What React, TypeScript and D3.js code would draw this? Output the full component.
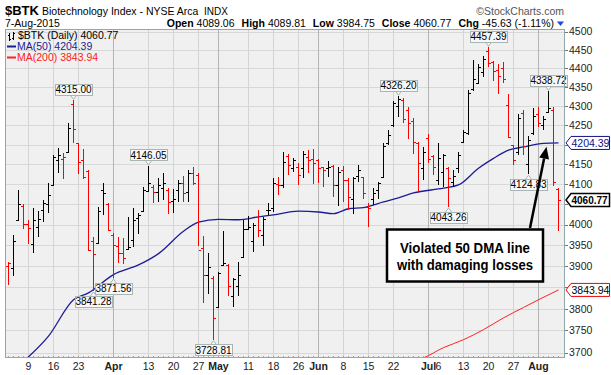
import * as d3 from "d3";
import { useRef, useEffect } from "react";

// daily bars: date, open, high, low, close
const bars: [string, number, number, number, number][] = [
  ["2015-03-03", 3900, 3911, 3855, 3908],
  ["2015-03-04", 3896, 3975, 3876, 3960],
  ["2015-03-05", 4011, 4086, 4010, 4050],
  ["2015-03-06", 4045, 4050, 3989, 4002],
  ["2015-03-09", 4002, 4011, 3952, 3991],
  ["2015-03-10", 3952, 4041, 3931, 4011],
  ["2015-03-11", 3995, 4033, 3969, 4014],
  ["2015-03-12", 4037, 4060, 4006, 4053],
  ["2015-03-13", 4050, 4102, 4028, 4073],
  ["2015-03-16", 4097, 4173, 4096, 4168],
  ["2015-03-17", 4161, 4191, 4129, 4173],
  ["2015-03-18", 4164, 4178, 4112, 4169],
  ["2015-03-19", 4182, 4256, 4178, 4242],
  ["2015-03-20", 4306, 4315, 4205, 4239],
  ["2015-03-23", 4203, 4205, 4126, 4157],
  ["2015-03-24", 4161, 4188, 4113, 4119],
  ["2015-03-25", 4132, 4136, 3937, 3939],
  ["2015-03-26", 3960, 3971, 3841.28, 3930],
  ["2015-03-27", 3955, 4044, 3954, 4033],
  ["2015-03-30", 4086, 4102, 4024, 4077],
  ["2015-03-31", 4050, 4053, 3985, 3987],
  ["2015-04-01", 3975, 3979, 3871.56, 3951],
  ["2015-04-02", 3949, 3971, 3908, 3931],
  ["2015-04-06", 3931, 3967, 3906, 3919],
  ["2015-04-07", 3940, 4018, 3939, 3947],
  ["2015-04-08", 3963, 4040, 3947, 4011],
  ["2015-04-09", 4016, 4028, 3977, 4024],
  ["2015-04-10", 4033, 4094, 4032, 4086],
  ["2015-04-13", 4083, 4146.05, 4081, 4102],
  ["2015-04-14", 4094, 4098, 4052, 4081],
  ["2015-04-15", 4081, 4115, 4056, 4098],
  ["2015-04-16", 4090, 4129, 4060, 4102],
  ["2015-04-17", 4086, 4090, 4025, 4056],
  ["2015-04-20", 4058, 4087, 4028, 4062],
  ["2015-04-21", 4086, 4111, 4056, 4102],
  ["2015-04-22", 4104, 4120, 4056, 4077],
  ["2015-04-23", 4081, 4136, 4056, 4127],
  ["2015-04-24", 4127, 4142, 4098, 4102],
  ["2015-04-27", 4123, 4129, 3948, 3939],
  ["2015-04-28", 3943, 3973, 3813, 3880],
  ["2015-04-29", 3878, 3932, 3835, 3898],
  ["2015-04-30", 3873, 3877, 3728.81, 3778],
  ["2015-05-01", 3805, 3886, 3803, 3884],
  ["2015-05-04", 3902, 3985, 3900, 3907],
  ["2015-05-05", 3903, 3905, 3830, 3854],
  ["2015-05-06", 3829, 3873, 3805, 3870],
  ["2015-05-07", 3853, 3909, 3830, 3880],
  ["2015-05-08", 3921, 4011, 3919, 3989],
  ["2015-05-11", 3990, 4021, 3987, 3995],
  ["2015-05-12", 3960, 4003, 3935, 3999],
  ["2015-05-13", 4018, 4037, 3971, 3987],
  ["2015-05-14", 3975, 4018, 3948, 4013],
  ["2015-05-15", 4035, 4052, 4023, 4036],
  ["2015-05-18", 4040, 4115, 4032, 4104],
  ["2015-05-19", 4101, 4119, 4072, 4098],
  ["2015-05-20", 4098, 4182, 4090, 4157],
  ["2015-05-21", 4172, 4177, 4123, 4148],
  ["2015-05-22", 4141, 4167, 4131, 4161],
  ["2015-05-26", 4144, 4152, 4098, 4123],
  ["2015-05-27", 4140, 4183, 4115, 4177],
  ["2015-05-28", 4169, 4187, 4127, 4160],
  ["2015-05-29", 4164, 4190, 4101, 4152],
  ["2015-06-01", 4162, 4164, 4102, 4141],
  ["2015-06-02", 4143, 4144, 4094, 4136],
  ["2015-06-03", 4141, 4158, 4117, 4144],
  ["2015-06-04", 4145, 4149, 4068, 4098],
  ["2015-06-05", 4098, 4144, 4046, 4130],
  ["2015-06-08", 4136, 4146, 4056, 4111],
  ["2015-06-09", 4110, 4115, 4036, 4068],
  ["2015-06-10", 4064, 4119, 4026, 4115],
  ["2015-06-11", 4120, 4149, 4106, 4136],
  ["2015-06-12", 4117, 4119, 4064, 4077],
  ["2015-06-15", 4044, 4052, 3994, 4041],
  ["2015-06-16", 4064, 4090, 4048, 4079],
  ["2015-06-17", 4086, 4106, 4064, 4102],
  ["2015-06-18", 4117, 4203, 4115, 4196],
  ["2015-06-19", 4205, 4238, 4198, 4225],
  ["2015-06-22", 4250, 4312, 4246, 4308],
  ["2015-06-23", 4300, 4326.2, 4271, 4318],
  ["2015-06-24", 4315, 4320, 4255, 4265],
  ["2015-06-25", 4290, 4298, 4215, 4255],
  ["2015-06-26", 4260, 4268, 4177, 4208],
  ["2015-06-29", 4205, 4208, 4082, 4152],
  ["2015-06-30", 4140, 4193, 4111, 4181],
  ["2015-07-01", 4218, 4228, 4152, 4164],
  ["2015-07-02", 4170, 4173, 4123, 4144],
  ["2015-07-06", 4110, 4203, 4098, 4166],
  ["2015-07-07", 4130, 4177, 4094, 4174],
  ["2015-07-08", 4140, 4144, 4043.26, 4115],
  ["2015-07-09", 4105, 4136, 4094, 4120],
  ["2015-07-10", 4140, 4181, 4127, 4173],
  ["2015-07-13", 4207, 4238, 4203, 4232],
  ["2015-07-14", 4229, 4341, 4225, 4334],
  ["2015-07-15", 4345, 4422, 4340, 4372],
  ["2015-07-16", 4362, 4413, 4359, 4404],
  ["2015-07-17", 4390, 4433, 4376, 4425],
  ["2015-07-20", 4448, 4457.39, 4403, 4415],
  ["2015-07-21", 4417, 4421, 4367, 4394],
  ["2015-07-22", 4395, 4412, 4333, 4379],
  ["2015-07-23", 4401, 4417, 4360, 4371],
  ["2015-07-24", 4302, 4333, 4216, 4220],
  ["2015-07-27", 4198, 4200, 4148, 4160],
  ["2015-07-28", 4180, 4278, 4173, 4268],
  ["2015-07-29", 4282, 4289, 4173, 4196],
  ["2015-07-30", 4150, 4222, 4124.83, 4211],
  ["2015-07-31", 4230, 4294, 4225, 4275],
  ["2015-08-03", 4280, 4297, 4246, 4255],
  ["2015-08-04", 4250, 4275, 4237, 4265],
  ["2015-08-05", 4285, 4338.72, 4283, 4295],
  ["2015-08-06", 4290, 4297, 4095, 4106.4],
  ["2015-08-07", 4089.06, 4089.81, 3984.75, 4060.77],
];
const priorClose = 3925; // close before the first bar, sets its colour

const ma50: [string, number][] = [
  ["2015-03-06", 3680], ["2015-03-13", 3737], ["2015-03-20", 3821], ["2015-03-25", 3837],
  ["2015-04-01", 3880], ["2015-04-09", 3903], ["2015-04-15", 3930], ["2015-04-22", 3984],
  ["2015-04-27", 4006], ["2015-05-01", 4013], ["2015-05-07", 4012], ["2015-05-13", 4019],
  ["2015-05-18", 4024], ["2015-05-26", 4033], ["2015-06-01", 4031], ["2015-06-04", 4027],
  ["2015-06-09", 4039], ["2015-06-12", 4042], ["2015-06-18", 4056], ["2015-06-23", 4066],
  ["2015-06-26", 4078], ["2015-07-07", 4090], ["2015-07-10", 4098], ["2015-07-16", 4140],
  ["2015-07-21", 4165], ["2015-07-24", 4186], ["2015-07-29", 4194], ["2015-08-04", 4203],
  ["2015-08-07", 4204.39],
];
const ma200: [string, number][] = [
  ["2015-06-29", 3684], ["2015-06-30", 3688], ["2015-07-07", 3711], ["2015-07-13", 3729],
  ["2015-07-17", 3752], ["2015-07-23", 3779], ["2015-07-29", 3803], ["2015-08-03", 3821],
  ["2015-08-07", 3843.94],
];

const priceTicks = d3.range(3700, 4501, 50);
// date, label, month label?, grid line?
const dateLabels: [string, string, boolean, boolean][] = [
  ["2015-03-09", "9", false, true], ["2015-03-16", "16", false, true], ["2015-03-23", "23", false, true],
  ["2015-04-01", "Apr", true, true], ["2015-04-13", "13", false, true], ["2015-04-20", "20", false, true],
  ["2015-04-27", "27", false, true], ["2015-05-01", "May", true, true], ["2015-05-11", "11", false, true],
  ["2015-05-18", "18", false, true], ["2015-05-26", "26", false, true], ["2015-06-01", "Jun", true, true],
  ["2015-06-08", "8", false, true], ["2015-06-15", "15", false, true], ["2015-06-22", "22", false, true],
  ["2015-07-01", "Jul", true, true], ["2015-07-06", "6", false, false], ["2015-07-13", "13", false, true],
  ["2015-07-20", "20", false, true], ["2015-07-27", "27", false, true], ["2015-08-03", "Aug", true, true],
];
const callouts: [string, "high" | "low"][] = [
  ["2015-03-20", "high"], ["2015-03-26", "low"], ["2015-04-01", "low"], ["2015-04-13", "high"],
  ["2015-04-30", "low"], ["2015-06-23", "high"], ["2015-07-08", "low"], ["2015-07-20", "high"],
  ["2015-07-30", "low"], ["2015-08-05", "high"],
];

const FONT = "'Liberation Sans', Arial, sans-serif";
const UP = "#000000";
const DOWN = "#ff0000";
const MA50_COLOR = "#1c1c96";
const MA200_COLOR = "#ff2020";

export default function App() {
  const svgRef = useRef<SVGSVGElement | null>(null);

  useEffect(() => {
    if (!svgRef.current) return;
    const svg = d3.select(svgRef.current);
    svg.selectAll("*").remove();

    const left = 5, right = 565, top = 29, bottom = 358;
    const dates = bars.map((d) => d[0]);
    const x = d3.scalePoint<string>().domain(dates).range([8.5, 558.5]);
    const y = d3.scaleLog().domain([3700, 4500]).range([352.5, 31.5]);
    const px = (d: string) => x(d)!;

    svg.attr("font-family", FONT);

    const last = bars[bars.length - 1];
    const prev = bars[bars.length - 2][4];
    const chg = last[4] - prev;
    const lastMa50 = ma50[ma50.length - 1][1];
    const lastMa200 = ma200[ma200.length - 1][1];

    // header
    svg.append("text").attr("x", 5).attr("y", 15).attr("font-size", 13).attr("font-weight", "bold").text("$BTK");
    svg.append("text").attr("x", 42).attr("y", 15).attr("font-size", 10.5).text("Biotechnology Index - NYSE Arca");
    svg.append("text").attr("x", 204).attr("y", 15).attr("font-size", 10).text("INDX");
    svg.append("text").attr("x", 564).attr("y", 15).attr("font-size", 10.5).attr("fill", "#555")
      .attr("text-anchor", "end").text("\u00a9StockCharts.com");
    svg.append("text").attr("x", 5).attr("y", 27).attr("font-size", 10.5).text("7-Aug-2015");

    const quote = svg.append("text").attr("x", 554).attr("y", 27).attr("font-size", 10.5).attr("text-anchor", "end");
    const parts: [string, string][] = [
      ["Open", last[1].toFixed(2)], ["High", last[2].toFixed(2)], ["Low", last[3].toFixed(2)],
      ["Close", last[4].toFixed(2)], ["Chg", `${chg.toFixed(2)} (${((chg / prev) * 100).toFixed(2)}%)`],
    ];
    parts.forEach(([k, v], i) => {
      quote.append("tspan").attr("font-weight", "bold").attr("dx", i === 0 ? 0 : 7).text(k);
      quote.append("tspan").attr("dx", 3).text(v);
    });
    svg.append("path").attr("d", "M557,21.5 L564,21.5 L560.5,26 Z").attr("fill", chg < 0 ? "#2244dd" : "#22aa22");

    // plot area
    svg.append("rect").attr("x", left).attr("y", top).attr("width", right - left).attr("height", bottom - top)
      .attr("fill", "#f0f0f0");
    svg.append("defs").append("clipPath").attr("id", "plotClip").append("rect")
      .attr("x", left).attr("y", top).attr("width", right - left).attr("height", bottom - top);

    const grid = svg.append("g").attr("shape-rendering", "crispEdges");
    priceTicks.forEach((t) => {
      const yy = Math.round(y(t)) + 0.5;
      grid.append("line").attr("x1", left).attr("x2", right).attr("y1", yy).attr("y2", yy).attr("stroke", "#d8d8d8");
    });
    dateLabels.filter((d) => d[3]).forEach(([d, , month]) => {
      grid.append("line").attr("x1", px(d)).attr("x2", px(d)).attr("y1", top).attr("y2", bottom)
        .attr("stroke", month ? "#b4b4b4" : "#d4d4d4");
    });

    // day ticks on bottom edge
    dates.forEach((d) => {
      grid.append("line").attr("x1", px(d)).attr("x2", px(d)).attr("y1", bottom - 2).attr("y2", bottom).attr("stroke", "#a0a0a0");
    });

    // MA lines
    const line = d3.line<[string, number]>().x((d) => px(d[0])).y((d) => y(d[1])).curve(d3.curveMonotoneX);
    const clipped = svg.append("g").attr("clip-path", "url(#plotClip)");
    clipped.append("path").datum(ma200).attr("d", line).attr("fill", "none").attr("stroke", MA200_COLOR).attr("stroke-width", 1);
    clipped.append("path").datum(ma50).attr("d", line).attr("fill", "none").attr("stroke", MA50_COLOR).attr("stroke-width", 1.3);

    // OHLC bars
    const g = clipped.append("g").attr("shape-rendering", "crispEdges");
    bars.forEach((b, i) => {
      const [d, o, h, l, c] = b;
      const pc = i === 0 ? priorClose : bars[i - 1][4];
      const col = c < pc ? DOWN : UP;
      const xx = px(d);
      g.append("line").attr("x1", xx).attr("x2", xx).attr("y1", y(h)).attr("y2", y(l)).attr("stroke", col);
      const yo = Math.round(y(o)) + 0.5;
      const yc = Math.round(y(c)) + 0.5;
      g.append("line").attr("x1", xx - 2.5).attr("x2", xx).attr("y1", yo).attr("y2", yo).attr("stroke", col);
      g.append("line").attr("x1", xx).attr("x2", xx + 2.5).attr("y1", yc).attr("y2", yc).attr("stroke", col);
    });

    // high / low callouts
    const bw = 37, bh = 11;
    callouts.forEach(([d, kind]) => {
      const b = bars.find((r) => r[0] === d)!;
      const v = kind === "high" ? b[2] : b[3];
      const cx = px(d);
      const vy = y(v);
      const g2 = svg.append("g");
      let boxTop: number;
      if (kind === "high") {
        boxTop = vy - 5 - bh;
        g2.append("path").attr("d", `M${cx - 3},${boxTop + bh} L${cx},${vy - 1} L${cx + 3},${boxTop + bh}`)
          .attr("fill", "#f7f7f7").attr("stroke", "#a7b5b5");
      } else {
        boxTop = vy + 5;
        g2.append("path").attr("d", `M${cx - 3},${boxTop} L${cx},${vy + 1} L${cx + 3},${boxTop}`)
          .attr("fill", "#f7f7f7").attr("stroke", "#a7b5b5");
      }
      g2.append("rect").attr("x", cx - bw / 2).attr("y", boxTop).attr("width", bw).attr("height", bh)
        .attr("fill", "#f7f7f7").attr("stroke", "#a7b5b5").attr("shape-rendering", "crispEdges");
      g2.append("text").attr("x", cx).attr("y", boxTop + bh - 2).attr("text-anchor", "middle")
        .attr("font-size", 10).text(v.toFixed(2));
    });

    // legend
    const lg = svg.append("g").attr("font-size", 10.5);
    lg.append("path").attr("d", "M9.5,33 V41 M8,35.5 H9.5 M9.5,39.5 H11 M13.5,32 V40 M12,38.5 H13.5 M13.5,33.5 H15")
      .attr("stroke", "#000").attr("fill", "none");
    lg.append("text").attr("x", 18).attr("y", 39).text(`$BTK (Daily) ${last[4].toFixed(2)}`);
    lg.append("line").attr("x1", 7).attr("x2", 16).attr("y1", 46.5).attr("y2", 46.5).attr("stroke", MA50_COLOR).attr("stroke-width", 2);
    lg.append("text").attr("x", 17).attr("y", 50).attr("fill", MA50_COLOR).text(`MA(50) ${lastMa50.toFixed(2)}`);
    lg.append("line").attr("x1", 7).attr("x2", 16).attr("y1", 57.5).attr("y2", 57.5).attr("stroke", MA200_COLOR).attr("stroke-width", 2);
    lg.append("text").attr("x", 17).attr("y", 61).attr("fill", MA200_COLOR).text(`MA(200) ${lastMa200.toFixed(2)}`);

    // frame
    svg.append("rect").attr("x", left + 0.5).attr("y", top + 0.5).attr("width", right - left - 1).attr("height", bottom - top - 1)
      .attr("fill", "none").attr("stroke", "#8fa9a9").attr("shape-rendering", "crispEdges");

    // right axis; labels hidden behind a value tag are left out
    const tagValues = [lastMa50, last[4], lastMa200];
    const ax = svg.append("g").attr("font-size", 10.5).attr("fill", "#222");
    priceTicks.forEach((t) => {
      const yy = Math.round(y(t)) + 0.5;
      ax.append("line").attr("x1", right).attr("x2", right + 3).attr("y1", yy).attr("y2", yy).attr("stroke", "#777");
      if (tagValues.some((v) => Math.abs(y(v) - y(t)) < 11)) return;
      ax.append("text").attr("x", 569).attr("y", y(t)).attr("dy", "0.36em").text(t);
    });

    // value tags on the axis
    const tag = (v: number, stroke: string, color: string, bold: boolean, sw: number) => {
      const yy = y(v);
      const g3 = svg.append("g");
      g3.append("path")
        .attr("d", `M${right + 1},${yy} L${right + 6},${yy - 6.5} H609.5 V${yy + 6.5} H${right + 6} Z`)
        .attr("fill", "#fff").attr("stroke", stroke).attr("stroke-width", sw);
      g3.append("text").attr("x", 571.5).attr("y", yy).attr("dy", "0.36em").attr("font-size", bold ? 10 : 10.5)
        .attr("font-weight", bold ? "bold" : "normal").attr("fill", color).text(v.toFixed(2));
    };
    tag(lastMa50, "#10108c", "#10108c", false, 1);
    tag(last[4], "#000", "#000", true, 1.5);
    tag(lastMa200, "#ee0000", "#000", false, 1);

    // bottom axis
    const bx = svg.append("g").attr("font-size", 10.5).attr("fill", "#222").attr("text-anchor", "middle");
    dateLabels.forEach(([d, label, month]) => {
      bx.append("text").attr("x", px(d)).attr("y", 370).attr("font-weight", month ? "bold" : "normal").text(label);
    });

    // annotation
    const note = svg.append("g");
    note.append("rect").attr("x", 387).attr("y", 229.5).attr("width", 156).attr("height", 52)
      .attr("fill", "#fff").attr("stroke", "#000").attr("stroke-width", 2.5);
    note.append("text").attr("x", 465).attr("y", 253).attr("text-anchor", "middle").attr("font-size", 14)
      .attr("font-weight", "bold").attr("textLength", 130).attr("lengthAdjust", "spacingAndGlyphs").text("Violated 50 DMA line");
    note.append("text").attr("x", 465).attr("y", 269.5).attr("text-anchor", "middle").attr("font-size", 14)
      .attr("font-weight", "bold").attr("textLength", 136).attr("lengthAdjust", "spacingAndGlyphs").text("with damaging losses");

    const tipX = px("2015-08-04") + 3, tipY = y(4200) + 2;
    const sx = 530, sy = 228;
    const len = Math.hypot(tipX - sx, tipY - sy);
    const ux = (tipX - sx) / len, uy = (tipY - sy) / len;
    const hx = tipX - ux * 12, hy = tipY - uy * 12;
    note.append("line").attr("x1", sx).attr("y1", sy).attr("x2", hx).attr("y2", hy).attr("stroke", "#000").attr("stroke-width", 2.5);
    note.append("path")
      .attr("d", `M${tipX},${tipY} L${hx - uy * 5},${hy + ux * 5} L${hx + uy * 5},${hy - ux * 5} Z`)
      .attr("fill", "#000");
  }, []);

  return (
    <svg
      ref={svgRef}
      width={611}
      height={375}
      style={{ position: "absolute", left: 0, top: 0, background: "#fff" }}
    ></svg>
  );
}
